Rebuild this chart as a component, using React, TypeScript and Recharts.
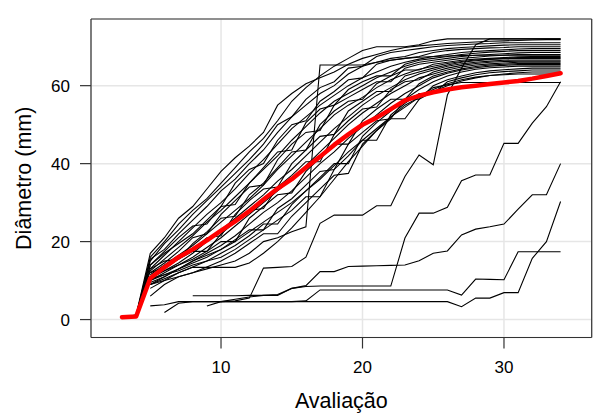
import React from "react";
import { LineChart, Line, XAxis, YAxis, CartesianGrid } from "recharts";

const FONT = "'Liberation Sans', Arial, Helvetica, sans-serif";

const ticksX = [10, 20, 30];
const ticksY = [0, 20, 40, 60];

// média de todas as árvores, a partir da avaliação 3
const mediaInicio = 3;
const media = [0.6, 0.8, 10.6, 13.4, 16.0, 18.0, 20.3, 22.8, 25.2, 27.8, 30.8, 33.6, 36.0, 39.0, 41.8, 44.8, 47.5, 50.0, 51.8, 54.0, 56.2, 57.4, 58.3, 59.0, 59.6, 60.0, 60.4, 60.8, 61.2, 61.8, 62.5, 63.2];

// árvores individuais (valor inicial = primeira avaliação medida)
const u01 = [0.5, 1.2, 17, 21, 26, 29, 33.5, 38, 41.5, 44.5, 48, 55, 58, 60.5, 62, 63.5, 65.5, 67, 68, 69, 69.8, 70.2, 70.5, 70.8, 71, 71.2, 71.4, 71.5, 71.6, 71.7, 71.8, 71.8];
const u02 = [0.6, 1.0, 16, 20, 24.5, 28, 31, 35, 39, 43, 46.5, 51, 56, 59.5, 62.5, 65, 67, 69, 70, 70, 70, 70.5, 71.5, 72, 72, 72, 72, 72, 72, 72, 72, 72];
const u03 = [0.4, 0.9, 15, 19.5, 23, 27, 30.5, 34, 37.5, 41, 45, 50, 52, 56.5, 59.5, 61, 64.5, 65, 67.5, 68.5, 69, 69.5, 70, 70.3, 70.5, 70.7, 70.8, 71, 71, 71, 71, 71];
const u04 = [1.1, 15.5, 18, 22, 25.5, 29, 33, 36, 40, 43.5, 48, 52, 55, 58, 60, 63, 65, 66, 67, 67.5, 68.5, 69, 69.5, 69.8, 70, 70.2, 70.4, 70.5, 70.5, 70.5, 70.5];
const u05 = [0.9, 14, 17.5, 21, 24, 24.5, 29, 35, 38.5, 40, 46, 50, 51, 56, 58.5, 61.5, 62, 65.5, 66.5, 67, 67.5, 68.5, 69, 69.3, 69.5, 69.7, 69.8, 70, 70, 70, 70];
const u06 = [1.3, 13, 16.5, 20, 23.5, 27, 30, 33.5, 37.5, 41, 45, 49, 52, 55, 57.5, 60, 62, 63.5, 65, 66, 66.8, 67.5, 68, 68.5, 68.8, 69, 69.2, 69.4, 69.5, 69.5, 69.5];
const u07 = [0.7, 14, 17, 19.5, 22, 25.5, 29, 29.5, 35, 39, 43, 43.5, 50.5, 54, 55, 59, 61, 62.5, 62.5, 65.5, 66.5, 67, 67.5, 68, 68.3, 68.6, 68.8, 69, 69, 69, 69];
const u08 = [1.0, 12.5, 15.5, 18.5, 21.5, 25, 28, 31.5, 35, 38.5, 42, 46, 49.5, 53, 56, 58, 60, 62, 63.5, 65, 66, 66.5, 67, 67.5, 67.8, 68, 68.2, 68.4, 68.5, 68.5, 68.5];
const u09 = [12, 14.5, 17.5, 21, 22, 27, 30.5, 34, 34.5, 41, 45, 48, 48.5, 55, 57, 59, 61, 61, 64.5, 65.5, 66, 66.5, 67, 67.3, 67.6, 67.8, 68, 68, 68, 68];
const u10 = [13, 15, 15.5, 19.5, 22.5, 26, 26.5, 32, 35, 39, 43, 43.5, 50, 53.5, 56, 56.5, 60.5, 62.5, 64, 64, 65.5, 66, 66.5, 66.8, 67, 67.2, 67.4, 67.5, 67.5, 67.5];
const u11 = [11.5, 14, 16.5, 19, 22, 25, 28, 31, 34.5, 38.5, 42, 45.5, 49, 52.5, 55, 57, 59.5, 61.5, 63, 64.2, 65, 65.7, 66.2, 66.6, 66.8, 67, 67.2, 67.2, 67.2, 67.2];
const u12 = [11, 13, 15.5, 18, 21, 21.5, 27, 30.5, 33.5, 34, 40, 43.5, 47, 47.5, 53.5, 56, 58.5, 58.5, 62.5, 63.5, 64.5, 65.3, 66, 66.4, 66.7, 66.9, 67, 67, 67, 67];
const u13 = [10.5, 12.5, 14.5, 17, 20, 23, 26, 29, 32, 35.5, 38.5, 42, 45.5, 49, 52, 55, 57.5, 59.5, 61.5, 63, 64, 65, 65.6, 66, 66.3, 66.5, 66.6, 66.6, 66.6, 66.6];
const u14 = [12, 13.5, 15.5, 17.5, 17.5, 22, 25, 28, 28.5, 34, 37, 40.5, 40.5, 47.5, 51, 54, 54.5, 59, 61, 61.5, 63.5, 64.5, 65.2, 65.7, 66, 66.2, 66.3, 66.3, 66.3, 66.3];
const u15 = [10, 12, 14, 16, 18.5, 21, 24, 27, 30, 33, 36, 39.5, 43, 46.5, 50, 53, 55.5, 58, 60, 62, 63, 64, 64.8, 65.3, 65.6, 65.8, 66, 66, 66, 66];
const u16 = [11, 12.5, 14, 15.5, 17.5, 20, 20, 26, 29, 32, 32.5, 38, 41.5, 45, 45, 51, 54, 56.5, 56.5, 60.5, 62.5, 63.5, 64.3, 64.9, 65.3, 65.5, 65.7, 65.7, 65.7, 65.7];
const u17 = [9.5, 11, 13, 15, 17, 19, 21.5, 24.5, 27.5, 30, 33, 36.5, 40, 43, 46.5, 49.5, 52.5, 55.5, 58, 60, 62, 63.2, 64, 64.6, 65, 65.2, 65.4, 65.4, 65.4, 65.4];
const u18 = [10, 11.5, 13, 14.5, 16, 18, 20.5, 23, 23, 28.5, 31, 34.5, 38, 38.5, 45, 48, 51, 51.5, 56.5, 59, 61, 62.5, 63.5, 64.2, 64.6, 64.8, 65, 65, 65, 65];
const u19 = [9, 10.5, 12, 13.5, 15, 17, 19, 21.5, 24.5, 24.5, 29.5, 33, 36.5, 40, 40, 47, 50.5, 53.5, 56.5, 56.5, 60, 61.5, 62.5, 63.3, 63.8, 64.1, 64.3, 64.5, 64.5, 64.5];
const u20 = [10.5, 11.5, 12.5, 14, 15, 16, 18, 20.5, 23, 25.5, 28, 31.5, 31.5, 38.5, 42, 46, 46, 52.5, 55.5, 58, 58, 61, 62, 62.8, 63.3, 63.6, 63.8, 64, 64, 64];
const u21 = [9, 10, 11, 12, 13.5, 15, 17, 19.5, 22, 22, 26.5, 30, 33.5, 37, 37.5, 45, 48.5, 51.5, 51.5, 56.5, 58.5, 60, 61.2, 62, 62.6, 63, 63.3, 63.5, 63.5, 63.5];
const u22 = [8, 10, 12, 13.4, 13.4, 13.4, 13.4, 14.5, 17, 20, 23.5, 27.5, 31.5, 36, 40.5, 44.5, 48.5, 52, 55, 57, 59, 60.5, 61.5, 62.2, 62.6, 62.8, 63, 63, 63, 63];
const u23 = [9, 11, 13, 15, 16.5, 18, 20, 22.5, 25, 27.5, 30, 33, 36, 39.5, 43, 46, 49, 52, 54.5, 57, 59.5, 60.2, 60.8, 60.8, 60.8, 60.8, 60.8, 60.8, 60.8, 60.8];
const u24 = [6, 9, 11, 12, 13, 14, 15, 17, 20, 21, 22.5, 23.8, 65.3, 65.3, 65.3, 65.3, 66, 66.5, 67, 67.3, 67.5, 67.6, 67.7, 67.8, 67.8, 67.8, 67.8, 67.8, 67.8, 67.8];

// árvores de crescimento tardio
const s01 = [3.5, 4.6, 4.8, 5.5, 13.2, 13.4, 13.6, 16.0, 24.7, 26.8, 26.8, 26.8, 29.2, 29.2, 36.7, 42.2, 39.7, 57.6, 64.5, 70.5, 72, 72, 72, 72, 72, 72];
const s02 = [6.1, 6.1, 6.1, 6.1, 6.2, 6.2, 6.2, 8.0, 8.7, 12.3, 12.3, 13.6, 13.7, 13.8, 13.9, 14.0, 15.1, 17.0, 17.6, 21.7, 23.2, 23.8, 24.5, 28.3, 32.0, 32.0, 40.0];
const s03 = [3.5, 3.8, 4.6, 4.6, 4.6, 4.6, 4.6, 4.6, 4.6, 4.6, 4.6, 4.8, 7.6, 7.6, 7.6, 7.6, 7.6, 7.6, 7.6, 7.6, 7.6, 7.6, 6.3, 10.4, 10.3, 10.2, 17.4, 17.4, 17.4, 17.4];
const s04 = [1.8, 4.2, 4.6, 4.6, 4.6, 4.6, 4.6, 4.6, 4.6, 4.6, 4.6, 4.6, 4.6, 4.6, 4.6, 4.6, 4.6, 4.6, 4.6, 4.6, 4.6, 3.3, 5.5, 5.5, 6.9, 6.9, 15.7, 20.0, 30.3];
const s05 = [4.6, 5.2, 5.8, 6.2, 6.4, 8.0, 8.5, 8.6, 8.6, 8.6, 8.6, 8.6, 8.6, 20.9, 27.3, 27.3, 28.8, 35.6, 37.1, 37.1, 45.2, 45.2, 50.4, 54.6, 61.0];

const arvores = [
  { inicio: 3, d: u01 }, { inicio: 3, d: u02 }, { inicio: 3, d: u03 },
  { inicio: 4, d: u04 }, { inicio: 4, d: u05 }, { inicio: 4, d: u06 },
  { inicio: 4, d: u07 }, { inicio: 4, d: u08 },
  { inicio: 5, d: u09 }, { inicio: 5, d: u10 }, { inicio: 5, d: u11 },
  { inicio: 5, d: u12 }, { inicio: 5, d: u13 }, { inicio: 5, d: u14 },
  { inicio: 5, d: u15 }, { inicio: 5, d: u16 }, { inicio: 5, d: u17 },
  { inicio: 5, d: u18 }, { inicio: 5, d: u19 }, { inicio: 5, d: u20 },
  { inicio: 5, d: u21 }, { inicio: 5, d: u22 }, { inicio: 5, d: u23 },
  { inicio: 5, d: u24 },
  { inicio: 9, d: s01 }, { inicio: 8, d: s02 }, { inicio: 5, d: s03 },
  { inicio: 6, d: s04 }, { inicio: 10, d: s05 },
];

const serie = (inicio: number, d: number[]) =>
  d.map((y, i) => ({ x: inicio + i, y }));

const tickStyle = { fill: "#000", fontSize: 17, fontFamily: FONT };
const eixo = { stroke: "#333", strokeWidth: 1.2 };

export default function App() {
  return (
    <div style={{ position: "absolute", left: 0, top: 0, background: "#fff" }}>
      <LineChart width={598} height={414} margin={{ top: 0, right: 0, bottom: 0, left: 0 }}>
        <CartesianGrid xAxisId="b" yAxisId="l" stroke="#e6e6e6" strokeWidth={1.5} />
        <XAxis
          xAxisId="b"
          type="number"
          dataKey="x"
          domain={[0.81, 36.2]}
          allowDataOverflow
          ticks={ticksX}
          height={76.5}
          tickSize={11}
          tickMargin={12}
          axisLine={eixo}
          tickLine={eixo}
          tick={tickStyle}
          label={{ value: "Avaliação", position: "insideBottom", offset: 5.7, fill: "#000", fontSize: 21.5, fontFamily: FONT }}
        />
        <XAxis
          xAxisId="t"
          orientation="top"
          type="number"
          dataKey="x"
          domain={[0.81, 36.2]}
          allowDataOverflow
          ticks={ticksX}
          height={19}
          tickSize={11}
          axisLine={eixo}
          tickLine={eixo}
          tick={false}
        />
        <YAxis
          yAxisId="l"
          type="number"
          domain={[-4.6, 77.1]}
          allowDataOverflow
          ticks={ticksY}
          width={91}
          tickSize={11}
          tickMargin={10}
          axisLine={eixo}
          tickLine={eixo}
          tick={tickStyle}
          label={{ value: "Diâmetro (mm)", angle: -90, position: "insideLeft", offset: 23, fill: "#000", fontSize: 21.5, fontFamily: FONT, style: { textAnchor: "middle" } }}
        />
        <YAxis
          yAxisId="r"
          orientation="right"
          type="number"
          domain={[-4.6, 77.1]}
          allowDataOverflow
          ticks={ticksY}
          width={6.3}
          tickSize={11}
          axisLine={eixo}
          tickLine={eixo}
          tick={false}
        />
        {arvores.map((a, i) => (
          <Line
            key={i}
            xAxisId="b"
            yAxisId="l"
            data={serie(a.inicio, a.d)}
            dataKey="y"
            type="linear"
            stroke="#000"
            strokeWidth={1.1}
            dot={false}
            isAnimationActive={false}
          />
        ))}
        <Line
          xAxisId="b"
          yAxisId="l"
          data={serie(mediaInicio, media)}
          dataKey="y"
          type="linear"
          stroke="#ff0000"
          strokeWidth={4.5}
          strokeLinecap="round"
          strokeLinejoin="round"
          dot={false}
          isAnimationActive={false}
        />
      </LineChart>
    </div>
  );
}
